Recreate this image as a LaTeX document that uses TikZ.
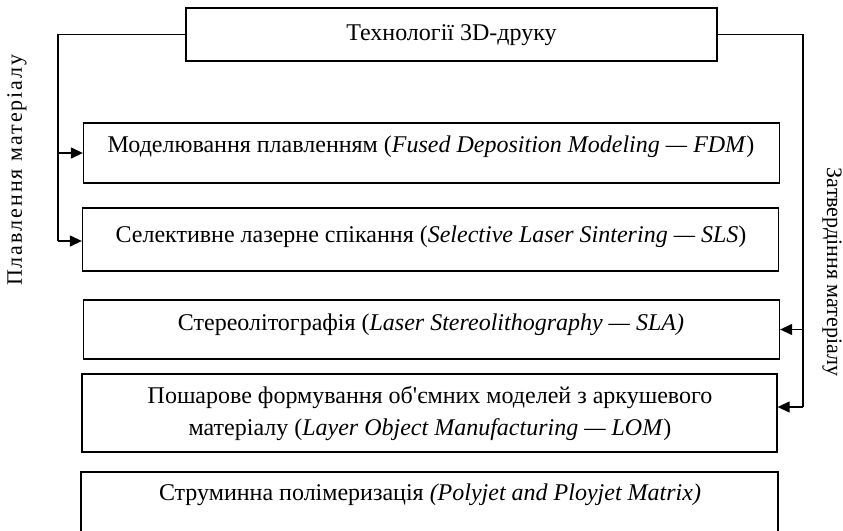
\documentclass[tikz,border=0pt]{standalone}
\usepackage{fontspec}
\setmainfont{Liberation Serif}
\usetikzlibrary{arrows.meta}

\tikzset{
  blk/.style={draw, line width=1.3pt, inner sep=0pt, minimum width=696pt},
  txt/.style={inner sep=0pt, font=\fontsize{24}{32}\selectfont, align=center},
  conn/.style={line width=1.3pt},
  arr/.style={conn, -{Triangle[length=12pt,width=11pt]}},
  side/.style={inner sep=0pt, font=\fontsize{22}{26}\selectfont}
}

\begin{document}
\begin{tikzpicture}[x=1pt,y=-1pt]
  \useasboundingbox (0,0) rectangle (843,530);

  % root block
  \node[blk, minimum width=531pt, minimum height=53pt] (top) at (451.5,34.5) {};
  \node[txt] (top-t) at (451.5,35) {Технології 3D-друку};

  % technology blocks
  \node[blk, minimum height=60pt] (fdm) at (431.5,153) {};
  \node[txt] (fdm-t) at (431,147) {Моделювання плавленням (\textit{Fused Deposition Modeling — FDM})};

  \node[blk, minimum height=63pt] (sls) at (430.5,239.5) {};
  \node[txt] (sls-t) at (431,237) {Селективне лазерне спікання (\textit{Selective Laser Sintering — SLS})};

  \node[blk, minimum height=59pt] (sla) at (431.5,329.5) {};
  \node[txt] (sla-t) at (431,325) {Стереолітографія (\textit{Laser Stereolithography — SLA)}};

  \node[blk, minimum width=695pt, minimum height=78pt] (lom) at (429.5,413) {};
  \node[txt] (lom-t) at (430,413) {Пошарове формування об\textquotesingle ємних моделей з аркушевого\\
    матеріалу (\textit{Layer Object Manufacturing — LOM})};

  \node[blk, minimum width=697pt, minimum height=70pt] (poly) at (429.5,507) {};
  \node[txt] (poly-t) at (430,495) {Струминна полімеризація \textit{(Polyjet and Ployjet Matrix)}};

  % melting branch
  \coordinate (lbot) at (58,241);
  \draw[conn] (top.west) -| (lbot);
  \draw[arr] (lbot) -- (lbot -| sls.west);
  \draw[arr] (lbot |- fdm.west) -- (fdm.west);

  % curing branch
  \coordinate (rbot) at (803,407);
  \draw[conn] (top.east) -| (rbot);
  \draw[arr] (rbot) -- (rbot -| lom.east);
  \draw[arr] (rbot |- sla.east) -- (sla.east);

  % side captions
  \node[side, rotate=90] (melt) at (17,170) {\addfontfeature{LetterSpace=9}Плавлення матеріалу};
  \node[side, rotate=-90] (cure) at (832,272) {Затвердіння матеріалу};
\end{tikzpicture}
\end{document}
